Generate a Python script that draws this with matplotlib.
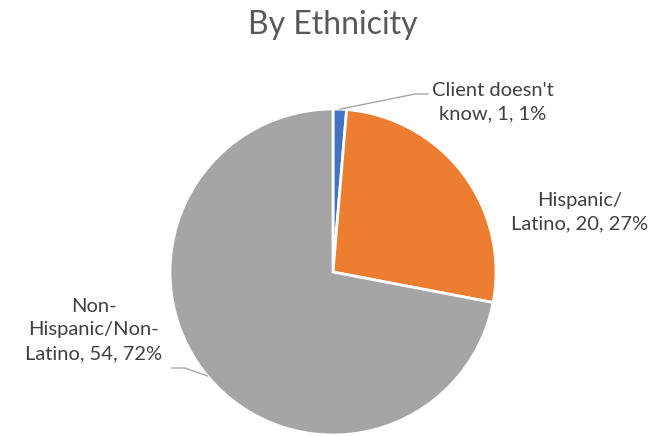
import numpy as np
import matplotlib.pyplot as plt

plt.rcParams['font.family'] = ['Lato', 'DejaVu Sans']

labels = ["Client doesn't\nknow", "Hispanic/\nLatino", "Non-\nHispanic/Non-\nLatino"]
counts = [1, 20, 54]
colors = ['#4472C4', '#ED7D31', '#A5A5A5']

W, H = 666, 436
cx, cy, R = 333, 272, 163  # pie centre / radius in pixels

fig = plt.figure(figsize=(W / 100, H / 100), dpi=100)
ax = fig.add_axes([(cx - R) / W, (H - cy - R) / H, 2 * R / W, 2 * R / H])
ax.pie(counts, colors=colors, startangle=90, counterclock=False,
       wedgeprops=dict(edgecolor='white', linewidth=2))
ax.set_xlim(-1, 1)
ax.set_ylim(-1, 1)
ax.set_aspect('equal')
ax.axis('off')

fig.text(cx / W, 1 - 25 / H, 'By Ethnicity', ha='center', va='center',
         fontsize=23, color='#595959')

total = sum(counts)
texts = [f"{lab}, {c}, {round(100 * c / total)}%" for lab, c in zip(labels, counts)]

def px(x, y):
    return (x - cx) / R, (cy - y) / R

# label centres, pixel positions
label_pos = [(493, 102), (580, 212), (94, 330)]
for t, (lx, ly) in zip(texts, label_pos):
    x, y = px(lx, ly)
    ax.text(x, y, t, ha='center', va='center', fontsize=14.5, color='#404040',
            linespacing=1.5, clip_on=False)

# leader lines from wedge midpoints
ang = 90.0
mids = []
for c in counts:
    span = 360.0 * c / total
    mids.append(np.radians(ang - span / 2))
    ang -= span

elbows = {0: [(415, 94), (428, 94)], 2: [(185, 368), (172, 368)]}
for i, pts in elbows.items():
    xs = [np.cos(mids[i])] + [px(*p)[0] for p in pts]
    ys = [np.sin(mids[i])] + [px(*p)[1] for p in pts]
    ax.plot(xs, ys, color='#A6A6A6', lw=1, clip_on=False)

fig.savefig('out.png', dpi=100)
